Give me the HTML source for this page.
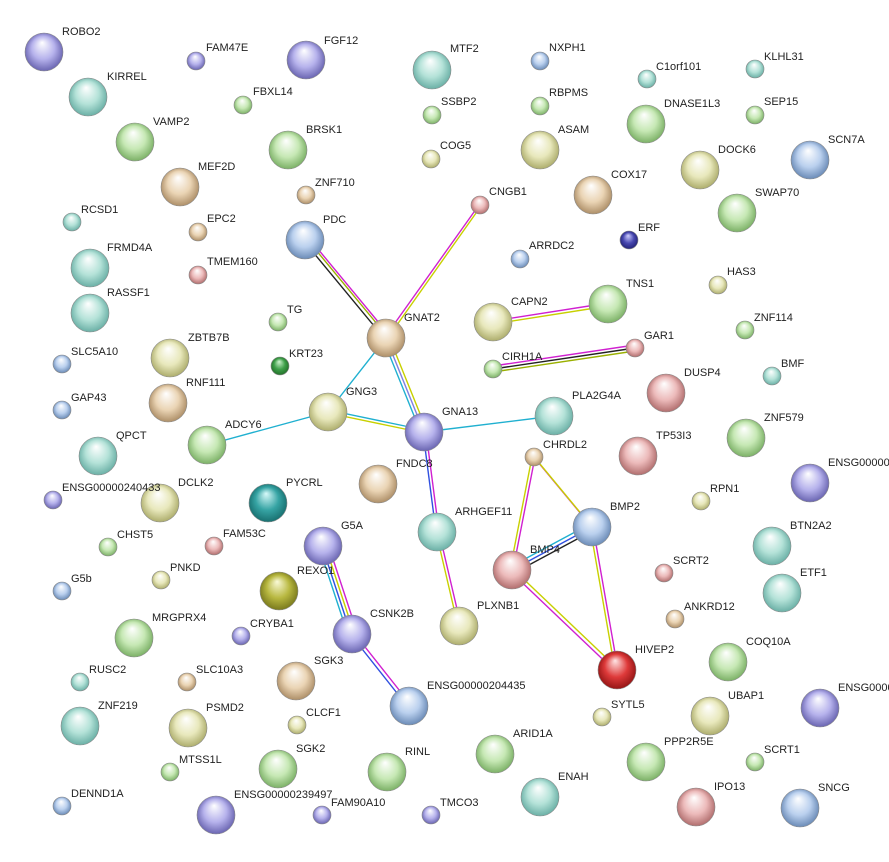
<!DOCTYPE html>
<html><head><meta charset="utf-8"><style>
html,body{margin:0;padding:0;background:#fff;}
svg{display:block;}
text{font-family:"Liberation Sans",sans-serif;font-size:11px;fill:#222;}
</style></head><body>
<svg width="889" height="862" viewBox="0 0 889 862" xmlns="http://www.w3.org/2000/svg">
<defs>
<radialGradient id="teal" cx="0.5" cy="0.5" r="0.55" fx="0.45" fy="0.25"><stop offset="0" stop-color="#ffffff"/><stop offset="0.55" stop-color="#b4e2d8"/><stop offset="1" stop-color="#5fa89e"/></radialGradient>
<radialGradient id="purple" cx="0.5" cy="0.5" r="0.55" fx="0.45" fy="0.25"><stop offset="0" stop-color="#ffffff"/><stop offset="0.55" stop-color="#b6b2ec"/><stop offset="1" stop-color="#5e59a8"/></radialGradient>
<radialGradient id="green" cx="0.5" cy="0.5" r="0.55" fx="0.45" fy="0.25"><stop offset="0" stop-color="#ffffff"/><stop offset="0.55" stop-color="#c6e8b4"/><stop offset="1" stop-color="#70a85a"/></radialGradient>
<radialGradient id="tan" cx="0.5" cy="0.5" r="0.55" fx="0.45" fy="0.25"><stop offset="0" stop-color="#ffffff"/><stop offset="0.55" stop-color="#ead4b4"/><stop offset="1" stop-color="#a4845c"/></radialGradient>
<radialGradient id="blue" cx="0.5" cy="0.5" r="0.55" fx="0.45" fy="0.25"><stop offset="0" stop-color="#ffffff"/><stop offset="0.55" stop-color="#bad0ee"/><stop offset="1" stop-color="#5e80ae"/></radialGradient>
<radialGradient id="pink" cx="0.5" cy="0.5" r="0.55" fx="0.45" fy="0.25"><stop offset="0" stop-color="#ffffff"/><stop offset="0.55" stop-color="#ecbaba"/><stop offset="1" stop-color="#a86262"/></radialGradient>
<radialGradient id="yellow" cx="0.5" cy="0.5" r="0.55" fx="0.45" fy="0.25"><stop offset="0" stop-color="#ffffff"/><stop offset="0.55" stop-color="#e8e8bc"/><stop offset="1" stop-color="#a4a460"/></radialGradient>
<radialGradient id="red" cx="0.5" cy="0.5" r="0.55" fx="0.45" fy="0.25"><stop offset="0" stop-color="#ffe6e6"/><stop offset="0.55" stop-color="#de3a3a"/><stop offset="1" stop-color="#8a1010"/></radialGradient>
<radialGradient id="dblue" cx="0.5" cy="0.5" r="0.55" fx="0.45" fy="0.25"><stop offset="0" stop-color="#d0d0ff"/><stop offset="0.55" stop-color="#4848b0"/><stop offset="1" stop-color="#1e1e70"/></radialGradient>
<radialGradient id="dgreen" cx="0.5" cy="0.5" r="0.55" fx="0.45" fy="0.25"><stop offset="0" stop-color="#d0f4d0"/><stop offset="0.55" stop-color="#3fa04a"/><stop offset="1" stop-color="#1e6a24"/></radialGradient>
<radialGradient id="olive" cx="0.5" cy="0.5" r="0.55" fx="0.45" fy="0.25"><stop offset="0" stop-color="#fafad8"/><stop offset="0.55" stop-color="#b8b840"/><stop offset="1" stop-color="#707018"/></radialGradient>
<radialGradient id="dteal" cx="0.5" cy="0.5" r="0.55" fx="0.45" fy="0.25"><stop offset="0" stop-color="#d8fafa"/><stop offset="0.55" stop-color="#36a4a4"/><stop offset="1" stop-color="#146868"/></radialGradient>
</defs>
<!-- edges -->
<g fill="none" stroke-width="1.4">
<line x1="303" y1="240" x2="384" y2="338" stroke="#222"/>
<line x1="306" y1="238" x2="387" y2="336" stroke="#9ab000"/>
<line x1="308" y1="237" x2="389" y2="335" stroke="#d020d0"/>
<line x1="479" y1="205" x2="385" y2="337" stroke="#d020d0"/>
<line x1="481" y1="206" x2="387" y2="339" stroke="#c8d000"/>
<line x1="386" y1="338" x2="328" y2="412" stroke="#20b0d0"/>
<line x1="383" y1="339" x2="421" y2="433" stroke="#20b0d0"/>
<line x1="386" y1="338" x2="424" y2="432" stroke="#8080e0"/>
<line x1="389" y1="337" x2="427" y2="431" stroke="#c8d000"/>
<line x1="328" y1="410" x2="424" y2="430" stroke="#20b0d0"/>
<line x1="328" y1="413" x2="424" y2="433" stroke="#c8d000"/>
<line x1="207" y1="445" x2="328" y2="412" stroke="#20b0d0"/>
<line x1="424" y1="432" x2="554" y2="416" stroke="#20b0d0"/>
<line x1="423" y1="432" x2="436" y2="532" stroke="#3050e0"/>
<line x1="426" y1="432" x2="439" y2="532" stroke="#d020d0"/>
<line x1="436" y1="532" x2="458" y2="626" stroke="#c8d000"/>
<line x1="439" y1="532" x2="461" y2="626" stroke="#d020d0"/>
<line x1="493" y1="321" x2="608" y2="303" stroke="#d020d0"/>
<line x1="493" y1="324" x2="608" y2="306" stroke="#c8d000"/>
<line x1="493" y1="366" x2="635" y2="345" stroke="#d020d0"/>
<line x1="493" y1="369" x2="635" y2="348" stroke="#222"/>
<line x1="493" y1="372" x2="635" y2="351" stroke="#9ab000"/>
<line x1="533" y1="456" x2="591" y2="526" stroke="#d020d0"/>
<line x1="535" y1="458" x2="593" y2="528" stroke="#c8d000"/>
<line x1="532" y1="457" x2="510" y2="570" stroke="#c8d000"/>
<line x1="535" y1="457" x2="513" y2="570" stroke="#d020d0"/>
<line x1="510" y1="567" x2="590" y2="524" stroke="#20b0d0"/>
<line x1="512" y1="570" x2="592" y2="527" stroke="#3050e0"/>
<line x1="514" y1="573" x2="594" y2="530" stroke="#222"/>
<line x1="590" y1="527" x2="615" y2="670" stroke="#c8d000"/>
<line x1="593" y1="527" x2="618" y2="670" stroke="#d020d0"/>
<line x1="511" y1="572" x2="616" y2="672" stroke="#d020d0"/>
<line x1="513" y1="569" x2="618" y2="669" stroke="#c8d000"/>
<line x1="319" y1="547" x2="348" y2="635" stroke="#20b0d0"/>
<line x1="322" y1="546" x2="351" y2="634" stroke="#3050e0"/>
<line x1="325" y1="545" x2="354" y2="633" stroke="#c8d000"/>
<line x1="328" y1="544" x2="357" y2="632" stroke="#d020d0"/>
<line x1="351" y1="635" x2="408" y2="707" stroke="#3050e0"/>
<line x1="354" y1="633" x2="411" y2="705" stroke="#d020d0"/>
</g>
<!-- large nodes -->
<g stroke="#888" stroke-width="0.6">
<circle cx="44" cy="52" r="19" fill="url(#purple)"/>
<circle cx="88" cy="97" r="19" fill="url(#teal)"/>
<circle cx="306" cy="60" r="19" fill="url(#purple)"/>
<circle cx="432" cy="70" r="19" fill="url(#teal)"/>
<circle cx="135" cy="142" r="19" fill="url(#green)"/>
<circle cx="180" cy="187" r="19" fill="url(#tan)"/>
<circle cx="288" cy="150" r="19" fill="url(#green)"/>
<circle cx="646" cy="124" r="19" fill="url(#green)"/>
<circle cx="700" cy="170" r="19" fill="url(#yellow)"/>
<circle cx="810" cy="160" r="19" fill="url(#blue)"/>
<circle cx="540" cy="150" r="19" fill="url(#yellow)"/>
<circle cx="593" cy="195" r="19" fill="url(#tan)"/>
<circle cx="737" cy="213" r="19" fill="url(#green)"/>
<circle cx="305" cy="240" r="19" fill="url(#blue)"/>
<circle cx="90" cy="268" r="19" fill="url(#teal)"/>
<circle cx="90" cy="313" r="19" fill="url(#teal)"/>
<circle cx="493" cy="322" r="19" fill="url(#yellow)"/>
<circle cx="608" cy="304" r="19" fill="url(#green)"/>
<circle cx="386" cy="338" r="19" fill="url(#tan)"/>
<circle cx="170" cy="358" r="19" fill="url(#yellow)"/>
<circle cx="168" cy="403" r="19" fill="url(#tan)"/>
<circle cx="666" cy="393" r="19" fill="url(#pink)"/>
<circle cx="328" cy="412" r="19" fill="url(#yellow)"/>
<circle cx="424" cy="432" r="19" fill="url(#purple)"/>
<circle cx="554" cy="416" r="19" fill="url(#teal)"/>
<circle cx="207" cy="445" r="19" fill="url(#green)"/>
<circle cx="98" cy="456" r="19" fill="url(#teal)"/>
<circle cx="746" cy="438" r="19" fill="url(#green)"/>
<circle cx="638" cy="456" r="19" fill="url(#pink)"/>
<circle cx="378" cy="484" r="19" fill="url(#tan)"/>
<circle cx="160" cy="503" r="19" fill="url(#yellow)"/>
<circle cx="268" cy="503" r="19" fill="url(#dteal)"/>
<circle cx="810" cy="483" r="19" fill="url(#purple)"/>
<circle cx="437" cy="532" r="19" fill="url(#teal)"/>
<circle cx="592" cy="527" r="19" fill="url(#blue)"/>
<circle cx="772" cy="546" r="19" fill="url(#teal)"/>
<circle cx="323" cy="546" r="19" fill="url(#purple)"/>
<circle cx="512" cy="570" r="19" fill="url(#pink)"/>
<circle cx="782" cy="593" r="19" fill="url(#teal)"/>
<circle cx="279" cy="591" r="19" fill="url(#olive)"/>
<circle cx="134" cy="638" r="19" fill="url(#green)"/>
<circle cx="352" cy="634" r="19" fill="url(#purple)"/>
<circle cx="459" cy="626" r="19" fill="url(#yellow)"/>
<circle cx="617" cy="670" r="19" fill="url(#red)"/>
<circle cx="728" cy="662" r="19" fill="url(#green)"/>
<circle cx="296" cy="681" r="19" fill="url(#tan)"/>
<circle cx="409" cy="706" r="19" fill="url(#blue)"/>
<circle cx="80" cy="726" r="19" fill="url(#teal)"/>
<circle cx="188" cy="728" r="19" fill="url(#yellow)"/>
<circle cx="710" cy="716" r="19" fill="url(#yellow)"/>
<circle cx="820" cy="708" r="19" fill="url(#purple)"/>
<circle cx="495" cy="754" r="19" fill="url(#green)"/>
<circle cx="646" cy="762" r="19" fill="url(#green)"/>
<circle cx="278" cy="769" r="19" fill="url(#green)"/>
<circle cx="387" cy="772" r="19" fill="url(#green)"/>
<circle cx="216" cy="815" r="19" fill="url(#purple)"/>
<circle cx="540" cy="797" r="19" fill="url(#teal)"/>
<circle cx="696" cy="807" r="19" fill="url(#pink)"/>
<circle cx="800" cy="808" r="19" fill="url(#blue)"/>
<!-- small -->
<circle cx="196" cy="61" r="9" fill="url(#purple)"/>
<circle cx="243" cy="105" r="9" fill="url(#green)"/>
<circle cx="306" cy="195" r="9" fill="url(#tan)"/>
<circle cx="540" cy="61" r="9" fill="url(#blue)"/>
<circle cx="647" cy="79" r="9" fill="url(#teal)"/>
<circle cx="755" cy="69" r="9" fill="url(#teal)"/>
<circle cx="432" cy="115" r="9" fill="url(#green)"/>
<circle cx="540" cy="106" r="9" fill="url(#green)"/>
<circle cx="755" cy="115" r="9" fill="url(#green)"/>
<circle cx="431" cy="159" r="9" fill="url(#yellow)"/>
<circle cx="480" cy="205" r="9" fill="url(#pink)"/>
<circle cx="72" cy="222" r="9" fill="url(#teal)"/>
<circle cx="198" cy="232" r="9" fill="url(#tan)"/>
<circle cx="629" cy="240" r="9" fill="url(#dblue)"/>
<circle cx="520" cy="259" r="9" fill="url(#blue)"/>
<circle cx="198" cy="275" r="9" fill="url(#pink)"/>
<circle cx="718" cy="285" r="9" fill="url(#yellow)"/>
<circle cx="278" cy="322" r="9" fill="url(#green)"/>
<circle cx="745" cy="330" r="9" fill="url(#green)"/>
<circle cx="280" cy="366" r="9" fill="url(#dgreen)"/>
<circle cx="635" cy="348" r="9" fill="url(#pink)"/>
<circle cx="493" cy="369" r="9" fill="url(#green)"/>
<circle cx="62" cy="364" r="9" fill="url(#blue)"/>
<circle cx="772" cy="376" r="9" fill="url(#teal)"/>
<circle cx="62" cy="410" r="9" fill="url(#blue)"/>
<circle cx="534" cy="457" r="9" fill="url(#tan)"/>
<circle cx="701" cy="501" r="9" fill="url(#yellow)"/>
<circle cx="53" cy="500" r="9" fill="url(#purple)"/>
<circle cx="108" cy="547" r="9" fill="url(#green)"/>
<circle cx="214" cy="546" r="9" fill="url(#pink)"/>
<circle cx="664" cy="573" r="9" fill="url(#pink)"/>
<circle cx="62" cy="591" r="9" fill="url(#blue)"/>
<circle cx="161" cy="580" r="9" fill="url(#yellow)"/>
<circle cx="675" cy="619" r="9" fill="url(#tan)"/>
<circle cx="241" cy="636" r="9" fill="url(#purple)"/>
<circle cx="80" cy="682" r="9" fill="url(#teal)"/>
<circle cx="187" cy="682" r="9" fill="url(#tan)"/>
<circle cx="297" cy="725" r="9" fill="url(#yellow)"/>
<circle cx="602" cy="717" r="9" fill="url(#yellow)"/>
<circle cx="170" cy="772" r="9" fill="url(#green)"/>
<circle cx="755" cy="762" r="9" fill="url(#green)"/>
<circle cx="62" cy="806" r="9" fill="url(#blue)"/>
<circle cx="322" cy="815" r="9" fill="url(#purple)"/>
<circle cx="431" cy="815" r="9" fill="url(#purple)"/>
</g>
<!-- labels -->
<g>
<text x="62" y="35">ROBO2</text>
<text x="107" y="80">KIRREL</text>
<text x="324" y="44">FGF12</text>
<text x="450" y="52">MTF2</text>
<text x="153" y="125">VAMP2</text>
<text x="198" y="170">MEF2D</text>
<text x="306" y="133">BRSK1</text>
<text x="664" y="107">DNASE1L3</text>
<text x="718" y="153">DOCK6</text>
<text x="828" y="143">SCN7A</text>
<text x="558" y="133">ASAM</text>
<text x="611" y="178">COX17</text>
<text x="755" y="196">SWAP70</text>
<text x="323" y="223">PDC</text>
<text x="107" y="251">FRMD4A</text>
<text x="107" y="296">RASSF1</text>
<text x="511" y="305">CAPN2</text>
<text x="626" y="287">TNS1</text>
<text x="404" y="321">GNAT2</text>
<text x="188" y="341">ZBTB7B</text>
<text x="186" y="386">RNF111</text>
<text x="684" y="376">DUSP4</text>
<text x="346" y="395">GNG3</text>
<text x="442" y="415">GNA13</text>
<text x="572" y="399">PLA2G4A</text>
<text x="225" y="428">ADCY6</text>
<text x="116" y="439">QPCT</text>
<text x="764" y="421">ZNF579</text>
<text x="656" y="439">TP53I3</text>
<text x="396" y="467">FNDC8</text>
<text x="178" y="486">DCLK2</text>
<text x="286" y="486">PYCRL</text>
<text x="828" y="466">ENSG00000</text>
<text x="455" y="515">ARHGEF11</text>
<text x="610" y="510">BMP2</text>
<text x="790" y="529">BTN2A2</text>
<text x="341" y="529">G5A</text>
<text x="530" y="553">BMP4</text>
<text x="800" y="576">ETF1</text>
<text x="297" y="574">REXO1</text>
<text x="152" y="621">MRGPRX4</text>
<text x="370" y="617">CSNK2B</text>
<text x="477" y="609">PLXNB1</text>
<text x="635" y="653">HIVEP2</text>
<text x="746" y="645">COQ10A</text>
<text x="314" y="664">SGK3</text>
<text x="427" y="689">ENSG00000204435</text>
<text x="98" y="709">ZNF219</text>
<text x="206" y="711">PSMD2</text>
<text x="728" y="699">UBAP1</text>
<text x="838" y="691">ENSG0000</text>
<text x="513" y="737">ARID1A</text>
<text x="664" y="745">PPP2R5E</text>
<text x="296" y="752">SGK2</text>
<text x="405" y="755">RINL</text>
<text x="234" y="798">ENSG00000239497</text>
<text x="558" y="780">ENAH</text>
<text x="714" y="790">IPO13</text>
<text x="818" y="791">SNCG</text>
<text x="206" y="51">FAM47E</text>
<text x="253" y="95">FBXL14</text>
<text x="315" y="186">ZNF710</text>
<text x="549" y="51">NXPH1</text>
<text x="656" y="70">C1orf101</text>
<text x="764" y="60">KLHL31</text>
<text x="441" y="105">SSBP2</text>
<text x="549" y="96">RBPMS</text>
<text x="764" y="105">SEP15</text>
<text x="440" y="149">COG5</text>
<text x="489" y="195">CNGB1</text>
<text x="81" y="213">RCSD1</text>
<text x="207" y="222">EPC2</text>
<text x="638" y="231">ERF</text>
<text x="529" y="249">ARRDC2</text>
<text x="207" y="265">TMEM160</text>
<text x="727" y="275">HAS3</text>
<text x="287" y="313">TG</text>
<text x="754" y="321">ZNF114</text>
<text x="289" y="357">KRT23</text>
<text x="644" y="339">GAR1</text>
<text x="502" y="360">CIRH1A</text>
<text x="71" y="355">SLC5A10</text>
<text x="781" y="367">BMF</text>
<text x="71" y="401">GAP43</text>
<text x="543" y="448">CHRDL2</text>
<text x="710" y="492">RPN1</text>
<text x="62" y="491">ENSG00000240433</text>
<text x="117" y="538">CHST5</text>
<text x="223" y="537">FAM53C</text>
<text x="673" y="564">SCRT2</text>
<text x="71" y="582">G5b</text>
<text x="170" y="571">PNKD</text>
<text x="684" y="610">ANKRD12</text>
<text x="250" y="627">CRYBA1</text>
<text x="89" y="673">RUSC2</text>
<text x="196" y="673">SLC10A3</text>
<text x="306" y="716">CLCF1</text>
<text x="611" y="708">SYTL5</text>
<text x="179" y="763">MTSS1L</text>
<text x="764" y="753">SCRT1</text>
<text x="71" y="797">DENND1A</text>
<text x="331" y="806">FAM90A10</text>
<text x="440" y="806">TMCO3</text>
</g>
</svg>
</body></html>
